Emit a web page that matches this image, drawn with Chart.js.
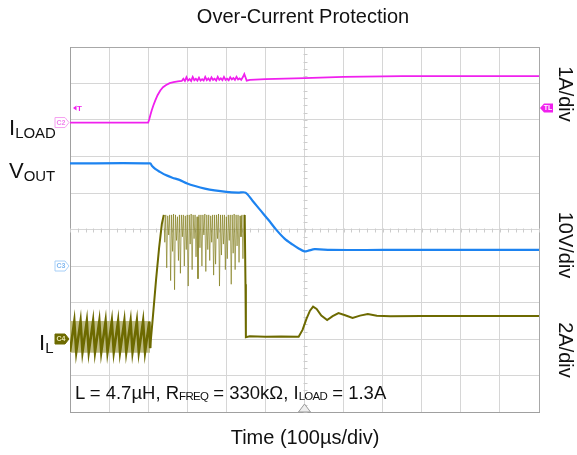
<!DOCTYPE html>
<html>
<head>
<meta charset="utf-8">
<script src="https://cdn.jsdelivr.net/npm/chart.js@4.4.0/dist/chart.umd.min.js"></script>
<style>
  body { margin: 0; background: #fff; }
  #wrap { position: relative; width: 577px; height: 455px; font-family: "Liberation Sans", Arial, sans-serif; color: #111; }
  #wrap canvas { position: absolute; left: 0; top: 0; }
  .txt { position: absolute; white-space: nowrap; line-height: 1; }
  .sub { font-size: 0.68em; vertical-align: -0.18em; }
  .nsub { font-size: 0.62em; vertical-align: -0.1em; letter-spacing: -0.06em; }
  .rot { position: absolute; white-space: nowrap; line-height: 1; font-size: 20px; transform: translate(-50%, -50%) rotate(90deg); }
</style>
</head>
<body>
<div id="wrap">
  <canvas id="scope" width="577" height="455"></canvas>
  <div class="txt" style="left:103px; top:6px; width:400px; text-align:center; font-size:20px;">Over-Current Protection</div>
  <div class="txt" style="left:105px; top:427px; width:400px; text-align:center; font-size:20px;">Time (100µs/div)</div>
  <div class="txt" style="left:9px; top:117px; font-size:22px;">I<span class="sub">LOAD</span></div>
  <div class="txt" style="left:9px; top:160px; font-size:22px;">V<span class="sub">OUT</span></div>
  <div class="txt" style="left:39px; top:332px; font-size:22px;">I<span class="sub">L</span></div>
  <div class="rot" style="left:566px; top:94px;">1A/div</div>
  <div class="rot" style="left:566px; top:245px;">10V/div</div>
  <div class="rot" style="left:566px; top:350px;">2A/div</div>
  <div class="txt" style="left:75px; top:384px; font-size:18.5px;">L = 4.7µH, R<span class="nsub">FREQ</span> = 330kΩ, I<span class="nsub">LOAD</span> = 1.3A</div>
</div>
<script>
// screen: 12 x 10 divisions, 100us/div
const xMax = 1200;
const yDivs = 5;

// channel settings: ground marker position (div from centre) and units per div
const iloadOffset = 2.93, iloadPerDiv = 1;   // C2, 1A/div
const voutOffset = -1.0, voutPerDiv = 10;    // C3, 10V/div
const ilOffset = -3.0, ilPerDiv = 2;         // C4, 2A/div
const trigLevel = 0.4;                       // A on C2
const trigTime = 600;

// I_LOAD (A)
const iloadTime = [0, 100, 200, 203, 206, 209, 213, 218, 224, 231, 238, 246, 255, 265, 276,
  286, 290, 294, 298, 302, 306, 310, 314, 318, 322, 326, 330, 334, 338, 342, 346, 350, 354, 358, 362,
  366, 370, 374, 378, 382, 386, 390, 394, 398, 402, 406, 410, 414, 418, 422, 426, 430, 434, 438, 442, 446,
  449, 452, 460, 500, 600, 700, 850, 1000, 1200];
const iloadAmps = [0, 0, 0, 0.1, 0.22, 0.33, 0.46, 0.6, 0.75, 0.88, 0.97, 1.03, 1.08, 1.11, 1.13,
  1.14, 1.2, 1.14, 1.24, 1.15, 1.19, 1.14, 1.25, 1.16, 1.2, 1.15, 1.23, 1.15, 1.19, 1.15, 1.25, 1.16, 1.21, 1.15, 1.24,
  1.17, 1.2, 1.15, 1.25, 1.17, 1.21, 1.16, 1.25, 1.17, 1.2, 1.16, 1.24, 1.18, 1.22, 1.17, 1.25, 1.18, 1.21, 1.17, 1.24, 1.33,
  1.24, 1.15, 1.17, 1.19, 1.22, 1.25, 1.27, 1.27, 1.27];

// V_OUT (V)
const voutTime = [0, 205, 210, 218, 230, 245, 262, 280, 300, 320, 345, 370, 400, 430, 449, 467, 487, 508, 528, 549, 569, 585, 600, 610, 626, 667, 800, 1000, 1200];
const voutVolts = [28.1, 28.1, 27.4, 26.6, 25.8, 24.9, 24.2, 23.6, 22.6, 21.9, 21.2, 20.7, 20.3, 20.1, 20.1, 17.9, 15.3, 12.6, 9.9, 7.5, 5.9, 4.8, 4.0, 4.2, 4.6, 4.4, 4.4, 4.4, 4.4];

// I_L (A)
const ilTime = [0, 11, 16, 27, 32, 43, 48, 59, 64, 75, 80, 91, 96, 107, 112, 123, 128, 139, 144, 155, 160, 171, 176, 187, 192, 203,
  205, 212, 220, 228, 235,
  240, 242.5, 245, 247.5, 250, 252.5, 255, 257.5, 260, 262.5, 265, 267.5, 270, 272.5, 275, 277.5, 280, 282.5, 285, 287.5,
  290, 292.5, 295, 297.5, 300, 302.5, 305, 307.5, 310, 312.5, 315, 317.5, 320, 322.5, 325, 327.5, 330, 332.5, 335, 337.5,
  340, 342.5, 345, 347.5, 350, 352.5, 355, 357.5, 360, 362.5, 365, 367.5, 370, 372.5, 375, 377.5, 380, 382.5, 385, 387.5,
  390, 392.5, 395, 397.5, 400, 402.5, 405, 407.5, 410, 412.5, 415, 417.5, 420, 422.5, 425, 427.5, 430, 432.5, 435, 437.5,
  440, 442.5, 445, 447,
  449, 450, 460, 500, 540, 585, 595, 605, 614, 622, 631, 643, 658, 672, 687, 704, 723, 742, 762, 785, 820, 900, 1000, 1200];
const ilAmps = [-0.7, 0.95, -0.7, 0.95, -0.7, 0.95, -0.7, 0.95, -0.7, 0.95, -0.7, 0.95, -0.7, 0.95, -0.7, 0.95, -0.7, 0.95, -0.7, 0.95, -0.7, 0.95, -0.7, 0.95, -0.7, 0.95,
  -0.5, 1.2, 3.2, 5.0, 6.3,
  6.8, 5.3, 6.8, 3.9, 6.75, 5.7, 6.8, 3.2, 6.8, 4.8, 6.85, 2.7, 6.8, 5.4, 6.7, 4.3, 6.8, 3.6, 6.8, 5.6,
  6.8, 4.0, 6.75, 4.9, 6.8, 2.9, 6.8, 5.2, 6.85, 3.8, 6.8, 5.5, 6.8, 4.5, 6.7, 3.3, 6.8, 5.0, 6.8, 4.0,
  6.8, 5.7, 6.85, 3.7, 6.8, 4.9, 6.8, 4.3, 6.75, 5.3, 6.8, 3.5, 6.8, 4.1, 6.8, 5.5, 6.85, 2.9, 6.8, 4.6,
  6.8, 5.2, 6.8, 3.8, 6.7, 4.4, 6.8, 5.4, 6.8, 3.0, 6.8, 4.7, 6.85, 3.8, 6.8, 5.1, 6.8, 4.2, 6.75, 5.6,
  6.8, 4.4, 6.8, 6.8,
  3.0, 0.1, 0.15, 0.12, 0.14, 0.12, 0.5, 1.1, 1.55, 1.77, 1.65, 1.28, 1.04, 1.25, 1.42, 1.3, 1.15, 1.28, 1.37, 1.27, 1.25, 1.26, 1.26, 1.26];

// light envelope of the switching ripple before the load step
const rippleTime = [0, 205];
const rippleHigh = [0.98, 0.98];
const rippleLow = [-0.75, -0.75];

const magenta = '#f020ee';
const blue = '#1d83f0';
const olive = '#6d6a00';
const oliveLight = '#bdba82';

function toDiv(times, vals, offset, perDiv) {
    return times.map((t, i) => ({ x: t, y: offset + vals[i] / perDiv }));
}

const scopeMarks = {
    id: 'scopeMarks',
    beforeDatasetsDraw(chart) {
        // minor ticks on the centre cross
        const { ctx, scales: { x, y } } = chart;
        ctx.save();
        ctx.strokeStyle = '#cccccc';
        ctx.lineWidth = 1;
        const y0 = Math.round(y.getPixelForValue(0)) + 0.5;
        for (let t = 0; t <= xMax; t += 20) {
            const px = Math.round(x.getPixelForValue(t)) + 0.5;
            ctx.beginPath(); ctx.moveTo(px, y0 - 2); ctx.lineTo(px, y0 + 2); ctx.stroke();
        }
        const x0 = Math.round(x.getPixelForValue(xMax / 2)) + 0.5;
        for (let d = -yDivs; d <= yDivs; d += 0.2) {
            const py = Math.round(y.getPixelForValue(d)) + 0.5;
            ctx.beginPath(); ctx.moveTo(x0 - 2, py); ctx.lineTo(x0 + 2, py); ctx.stroke();
        }
        ctx.restore();
    },
    afterDraw(chart) {
        const { ctx, chartArea: a, scales: { x, y } } = chart;
        ctx.save();
        ctx.font = 'bold 7px "Liberation Sans", Arial';
        ctx.textAlign = 'center';
        ctx.textBaseline = 'middle';

        function leftTag(div, label, stroke, fill, textColor) {
            const py = y.getPixelForValue(div);
            const r = a.left - 1, l = r - 14;
            ctx.beginPath();
            ctx.moveTo(l, py - 5); ctx.lineTo(r - 4, py - 5); ctx.lineTo(r, py);
            ctx.lineTo(r - 4, py + 5); ctx.lineTo(l, py + 5); ctx.closePath();
            if (fill) { ctx.fillStyle = fill; ctx.fill(); }
            ctx.strokeStyle = stroke; ctx.lineWidth = 1; ctx.stroke();
            ctx.fillStyle = textColor;
            ctx.fillText(label, l + 6, py + 0.5);
        }
        leftTag(iloadOffset, 'C2', '#f5a0f0', '#fff', '#f080ec');
        leftTag(voutOffset, 'C3', '#a8d0f8', '#fff', '#80b8f0');
        leftTag(ilOffset, 'C4', olive, olive, '#e8e6b0');

        // trigger level, right side
        const ty = y.getPixelForValue(iloadOffset + trigLevel / iloadPerDiv);
        const rl = a.right + 1;
        ctx.beginPath();
        ctx.moveTo(rl, ty); ctx.lineTo(rl + 4, ty - 4.5); ctx.lineTo(rl + 13, ty - 4.5);
        ctx.lineTo(rl + 13, ty + 4.5); ctx.lineTo(rl + 4, ty + 4.5); ctx.closePath();
        ctx.fillStyle = magenta; ctx.fill();
        ctx.fillStyle = '#fff';
        ctx.fillText('TL', rl + 8, ty + 0.5);

        // trigger marker, left side
        ctx.fillStyle = magenta;
        ctx.beginPath();
        ctx.moveTo(a.left + 3, ty); ctx.lineTo(a.left + 6.5, ty - 2.5); ctx.lineTo(a.left + 6.5, ty + 2.5); ctx.closePath();
        ctx.fill();
        ctx.font = 'bold 8px "Liberation Sans", Arial';
        ctx.fillText('T', a.left + 9.5, ty + 0.5);

        // trigger position, bottom
        const tx = x.getPixelForValue(trigTime);
        ctx.beginPath();
        ctx.moveTo(tx, a.bottom - 8); ctx.lineTo(tx + 6, a.bottom); ctx.lineTo(tx - 6, a.bottom); ctx.closePath();
        ctx.fillStyle = '#eeeeee'; ctx.fill();
        ctx.strokeStyle = '#9a9a9a'; ctx.stroke();
        ctx.restore();
    }
};

const gridColor = (c) => (c.index === 0 || c.tick.value === xMax || c.tick.value === yDivs || c.tick.value === -yDivs) ? '#a8a8a8' : '#d6d6d6';

// burst region of the inductor current is drawn lighter and thinner
const inBurst = s => s.p0.parsed.x >= 240 && s.p1.parsed.x <= 447;
const inRipple = s => s.p1.parsed.x <= 205;

new Chart(document.getElementById('scope'), {
    type: 'line',
    data: {
        datasets: [
            {
                data: toDiv(rippleTime, rippleHigh, ilOffset, ilPerDiv),
                borderWidth: 0, pointRadius: 0, fill: 1, order: 10,
                backgroundColor: oliveLight
            },
            {
                data: toDiv(rippleTime, rippleLow, ilOffset, ilPerDiv),
                borderWidth: 0, pointRadius: 0, fill: false, order: 10
            },
            {
                data: toDiv(ilTime, ilAmps, ilOffset, ilPerDiv),
                borderColor: olive, borderWidth: 2, pointRadius: 0,
                segment: {
                    borderColor: s => inBurst(s) ? 'rgba(120,115,10,0.6)' : olive,
                    borderWidth: s => inBurst(s) ? 1 : (inRipple(s) ? 2.6 : 2)
                }
            },
            {
                data: toDiv(voutTime, voutVolts, voutOffset, voutPerDiv),
                borderColor: blue, borderWidth: 2.2, pointRadius: 0, tension: 0.3
            },
            {
                data: toDiv(iloadTime, iloadAmps, iloadOffset, iloadPerDiv),
                borderColor: magenta, borderWidth: 1.8, pointRadius: 0
            }
        ]
    },
    options: {
        responsive: false,
        animation: false,
        layout: { padding: { left: 70, right: 38, top: 47, bottom: 43 } },
        plugins: { legend: { display: false }, tooltip: { enabled: false } },
        scales: {
            x: {
                type: 'linear', min: 0, max: xMax,
                ticks: { display: false, stepSize: 100 },
                grid: { color: gridColor, drawTicks: false },
                border: { color: '#a0a0a0' }
            },
            y: {
                type: 'linear', min: -yDivs, max: yDivs,
                ticks: { display: false, stepSize: 1 },
                grid: { color: gridColor, drawTicks: false },
                border: { color: '#a0a0a0' }
            }
        }
    },
    plugins: [scopeMarks]
});
</script>
</body>
</html>
